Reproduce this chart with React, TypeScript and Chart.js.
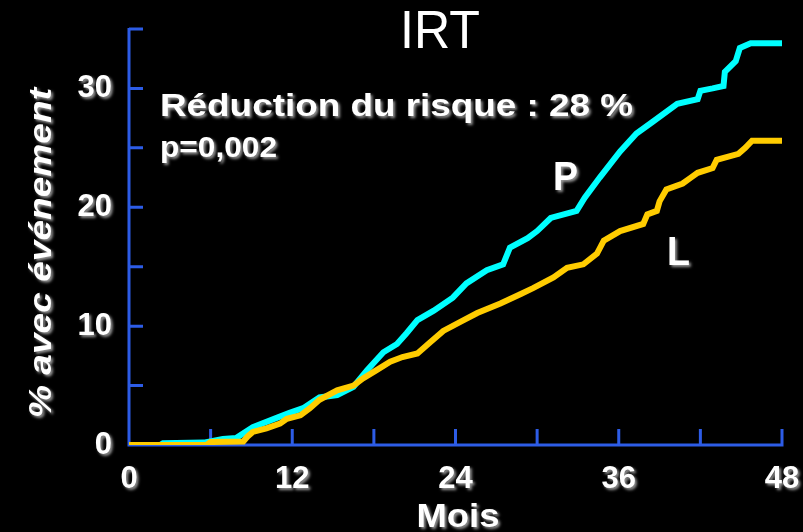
import React, { useEffect, useRef } from "react";
import { Chart, registerables } from "chart.js";

Chart.register(...registerables);

// ---- data ----
const pMonths = [0, 2.3, 2.5, 5.5, 6.9, 7.9, 9.1, 10.9, 11.8, 12.8, 14.0, 15.3, 16.5, 17.5, 18.7, 19.7, 20.4, 21.2, 22.4, 23.8, 24.8, 26.3, 27.5, 28.0, 29.3, 30.0, 31.0, 32.9, 33.5, 34.6, 36.1, 37.3, 38.5, 40.3, 41.8, 42.0, 42.9, 43.7, 43.8, 44.6, 44.9, 45.7, 48];
const pValues = [0, 0, 0.15, 0.2, 0.5, 0.6, 1.5, 2.3, 2.7, 3.1, 4.0, 4.2, 4.9, 6.3, 7.8, 8.5, 9.4, 10.5, 11.3, 12.4, 13.6, 14.7, 15.2, 16.6, 17.4, 18.0, 19.1, 19.7, 20.8, 22.5, 24.7, 26.2, 27.2, 28.7, 29.1, 29.8, 30.0, 30.2, 31.4, 32.3, 33.4, 33.8, 33.8];

const lMonths = [0, 5.7, 6.0, 8.4, 8.7, 9.1, 10.1, 11.1, 11.6, 12.6, 13.3, 14.0, 15.3, 16.5, 17.2, 18.2, 19.2, 20.1, 21.2, 22.1, 23.1, 24.6, 25.6, 27.3, 28.8, 29.7, 31.2, 32.2, 33.4, 34.4, 34.9, 36.1, 37.8, 38.1, 38.8, 39.0, 39.5, 40.7, 41.3, 41.8, 42.9, 43.2, 44.8, 45.3, 45.8, 48];
const lValues = [0, 0, 0.25, 0.3, 0.7, 1.1, 1.4, 1.8, 2.2, 2.5, 3.1, 3.8, 4.6, 5.0, 5.6, 6.3, 7.0, 7.4, 7.7, 8.6, 9.6, 10.5, 11.1, 11.9, 12.7, 13.2, 14.1, 14.9, 15.2, 16.1, 17.2, 18.0, 18.6, 19.4, 19.7, 20.5, 21.5, 22.0, 22.5, 22.9, 23.3, 24.0, 24.5, 25.0, 25.6, 25.6];

const xTickMarks = [0, 6, 12, 18, 24, 30, 36, 42, 48];
const xTickLabels = [0, 12, 24, 36, 48];
const yTickMarks = [0, 5, 10, 15, 20, 25, 30, 35];
const yTickLabels = [0, 10, 20, 30];

const chartTitle = "IRT";
const reductionText = "Réduction du risque : 28 %";
const pValueText = "p=0,002";
const seriesNames = ["P", "L"];
const xAxisTitle = "Mois";
const yAxisTitle = "% avec événement";

const FONT = "'Liberation Sans', Arial, sans-serif";
const AXIS_BLUE = "#2d5ce6";

function fitText(
  ctx: CanvasRenderingContext2D,
  text: string,
  x: number,
  y: number,
  font: string,
  width: number,
  align: CanvasTextAlign,
  rotate = 0
) {
  ctx.save();
  ctx.font = font;
  const m = ctx.measureText(text).width;
  const sx = width / m;
  ctx.translate(x, y);
  if (rotate) ctx.rotate(rotate);
  ctx.scale(sx, 1);
  ctx.textAlign = align;
  ctx.textBaseline = "alphabetic";
  ctx.fillText(text, 0, 0);
  ctx.restore();
}

function setShadow(ctx: CanvasRenderingContext2D) {
  ctx.shadowColor = "rgba(170,170,170,0.9)";
  ctx.shadowBlur = 3;
  ctx.shadowOffsetX = 2;
  ctx.shadowOffsetY = 2;
}

const decorPlugin = {
  id: "decor",
  beforeDraw(chart: any) {
    const ctx = chart.ctx;
    ctx.save();
    setShadow(ctx);
  },
  beforeDatasetsDraw(chart: any) {
    const ctx = chart.ctx;
    ctx.restore();
    const x = chart.scales.x;
    const y = chart.scales.y;
    const x0 = x.getPixelForValue(0);
    const x1 = x.getPixelForValue(48);
    const y0 = y.getPixelForValue(0);
    const yTop = y.getPixelForValue(35);
    ctx.save();
    ctx.strokeStyle = AXIS_BLUE;
    ctx.lineWidth = 3;
    ctx.lineCap = "butt";
    ctx.beginPath();
    ctx.moveTo(x0, yTop - 1);
    ctx.lineTo(x0, y0 + 1.5);
    ctx.moveTo(x0 - 1.5, y0);
    ctx.lineTo(x1 + 1.5, y0);
    yTickMarks.forEach((v) => {
      if (v === 0) return;
      const py = y.getPixelForValue(v);
      ctx.moveTo(x0, py);
      ctx.lineTo(x0 + 14, py);
    });
    xTickMarks.forEach((v) => {
      if (v === 0) return;
      const px = x.getPixelForValue(v);
      ctx.moveTo(px, y0);
      ctx.lineTo(px, y0 - 16);
    });
    ctx.stroke();
    ctx.restore();
  },
  afterDraw(chart: any) {
    const ctx = chart.ctx;
    ctx.save();
    ctx.fillStyle = "#ffffff";
    fitText(ctx, chartTitle, 440, 48, `normal 53px ${FONT}`, 80, "center");
    setShadow(ctx);
    fitText(ctx, reductionText, 160, 116, `bold 31px ${FONT}`, 473, "left");
    fitText(ctx, pValueText, 160, 157, `bold 29px ${FONT}`, 117, "left");
    fitText(ctx, seriesNames[0], 553, 190, `bold 41px ${FONT}`, 25, "left");
    fitText(ctx, seriesNames[1], 667, 265, `bold 41px ${FONT}`, 23, "left");
    fitText(ctx, xAxisTitle, 458, 527, `bold 34px ${FONT}`, 83, "center");
    fitText(ctx, yAxisTitle, 51, 253, `italic bold 31px ${FONT}`, 330, "center", -Math.PI / 2);
    ctx.restore();
  },
};

export default function App() {
  const canvasRef = useRef<HTMLCanvasElement | null>(null);

  useEffect(() => {
    document.body.style.margin = "0";
    document.body.style.background = "#000";
    const canvas = canvasRef.current;
    if (!canvas) return;
    const chart = new Chart(canvas, {
      type: "line",
      data: {
        datasets: [
          {
            label: seriesNames[1],
            data: lMonths.map((m, i) => ({ x: m, y: lValues[i] })),
            borderColor: "#ffcc00",
            backgroundColor: "#ffcc00",
            borderWidth: 6,
            pointRadius: 0,
            tension: 0,
            fill: false,
          },
          {
            label: seriesNames[0],
            data: pMonths.map((m, i) => ({ x: m, y: pValues[i] })),
            borderColor: "#00ffff",
            backgroundColor: "#00ffff",
            borderWidth: 6,
            pointRadius: 0,
            tension: 0,
            fill: false,
          },
        ],
      },
      options: {
        responsive: false,
        animation: false,
        devicePixelRatio: 1,
        layout: { padding: { left: 0, right: 21, top: 29, bottom: 0 } },
        plugins: {
          legend: { display: false },
          tooltip: { enabled: false },
          title: { display: false },
        },
        scales: {
          x: {
            type: "linear",
            min: 0,
            max: 48,
            afterBuildTicks: (s: any) => {
              s.ticks = xTickMarks.map((v) => ({ value: v }));
            },
            afterFit: (s: any) => {
              s.height = 87;
              s.paddingLeft = 0;
              s.paddingRight = 0;
              s.paddingTop = 0;
              s.paddingBottom = 0;
            },
            grid: { display: false, drawTicks: false },
            border: { display: false },
            ticks: {
              color: "#ffffff",
              font: { family: FONT, size: 31, weight: "bold" },
              padding: 16,
              autoSkip: false,
              maxRotation: 0,
              callback: (v: any) => (xTickLabels.includes(Number(v)) ? String(v) : ""),
            },
          },
          y: {
            type: "linear",
            min: 0,
            max: 35,
            afterBuildTicks: (s: any) => {
              s.ticks = yTickMarks.map((v) => ({ value: v }));
            },
            afterFit: (s: any) => {
              s.width = 129;
              s.paddingLeft = 0;
              s.paddingRight = 0;
              s.paddingTop = 0;
              s.paddingBottom = 0;
            },
            grid: { display: false, drawTicks: false },
            border: { display: false },
            ticks: {
              color: "#ffffff",
              font: { family: FONT, size: 31, weight: "bold" },
              padding: 17,
              autoSkip: false,
              callback: (v: any) => (yTickLabels.includes(Number(v)) ? String(v) : ""),
            },
          },
        },
      } as any,
      plugins: [decorPlugin],
    });
    return () => chart.destroy();
  }, []);

  return (
    <div style={{ width: 803, height: 532, background: "#000", position: "relative" }}>
      <canvas ref={canvasRef} width={803} height={532} style={{ display: "block" }} />
    </div>
  );
}
